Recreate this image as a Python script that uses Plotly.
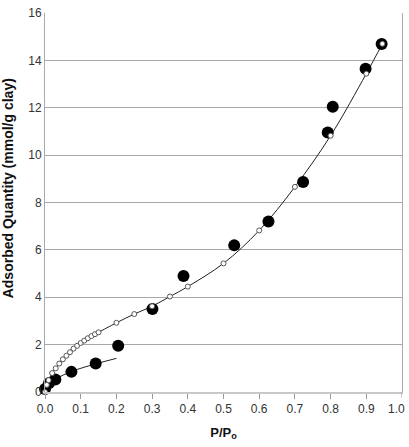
import plotly.graph_objects as go

# Open-circle series (with smooth line)
open_x = [0.0, 0.005, 0.01, 0.02, 0.03, 0.04, 0.05, 0.06, 0.07, 0.08, 0.09, 0.10,
          0.11, 0.12, 0.13, 0.14, 0.15, 0.20, 0.25, 0.30, 0.35, 0.40, 0.50, 0.60,
          0.70, 0.80, 0.90, 0.945]
open_y = [0.0, 0.3, 0.5, 0.8, 1.0, 1.2, 1.38, 1.53, 1.68, 1.83, 1.95, 2.07,
          2.17, 2.27, 2.36, 2.44, 2.52, 2.92, 3.29, 3.62, 4.03, 4.45, 5.43, 6.82,
          8.66, 10.82, 13.44, 14.7]

# Filled-circle series
filled_x = [0.0, 0.011, 0.029, 0.074, 0.142, 0.205, 0.301, 0.388, 0.53, 0.626,
            0.723, 0.792, 0.806, 0.898, 0.943]
filled_y = [0.13, 0.37, 0.53, 0.85, 1.2, 1.95, 3.5, 4.9, 6.19, 7.2,
            8.87, 10.96, 12.04, 13.65, 14.69]

# Low-pressure fit line for the filled series
fit_x = [0.0, 0.01, 0.03, 0.075, 0.145, 0.2]
fit_y = [0.12, 0.33, 0.55, 0.87, 1.2, 1.42]

x_ticks = [0.0, 0.1, 0.2, 0.3, 0.4, 0.5, 0.6, 0.7, 0.8, 0.9]
x_labels = ["0.0", "0.1", "0.2", "0.3", "0.4", "0.5", "0.6", "0.7", "0.8", "0.9"]
x_last_tick = 1.0
x_last_label = "1.0"
y_ticks = [0, 2, 4, 6, 8, 10, 12, 14, 16]
y_title = "<b>Adsorbed Quantity (mmol/g clay)</b>"
x_title = "<b>P/P<sub>o</sub></b>"

fig = go.Figure()
fig.add_trace(go.Scatter(x=fit_x, y=fit_y, mode="lines", line=dict(color="#222", width=1, shape="spline"),
                         hoverinfo="skip", showlegend=False, cliponaxis=False))
fig.add_trace(go.Scatter(x=open_x, y=open_y, mode="lines", line=dict(color="#222", width=1, shape="spline"),
                         showlegend=False, cliponaxis=False))
fig.add_trace(go.Scatter(x=filled_x, y=filled_y, mode="markers",
                         marker=dict(size=12, color="black", line=dict(width=0)),
                         showlegend=False, cliponaxis=False))
fig.add_trace(go.Scatter(x=open_x, y=open_y, mode="markers",
                         marker=dict(size=5, color="white", line=dict(color="#555", width=1)),
                         showlegend=False, cliponaxis=False))

# last x tick mark and label (label kept inside the page)
fig.add_shape(type="line", xref="x", yref="paper", x0=x_last_tick, x1=x_last_tick,
              y0=0, y1=-6 / 382, line=dict(width=1, color="#999"))
fig.add_annotation(x=x_last_tick, xref="x", y=0, yref="paper", yanchor="top", yshift=-8,
                   xanchor="right", xshift=5,
                   text=x_last_label, showarrow=False, font=dict(size=12, color="#333"))

# y-axis title as rotated annotation
fig.add_annotation(x=0, xref="paper", xshift=-37, xanchor="center",
                   y=8.6, yref="y", yanchor="middle", textangle=-90,
                   text=y_title, showarrow=False, font=dict(size=14, color="#111"))

fig.update_layout(
    width=409, height=447,
    margin=dict(l=45, r=6, t=10, b=55),
    paper_bgcolor="white", plot_bgcolor="white",
    font=dict(family="Liberation Sans, Arial, sans-serif", color="#333", size=11),
    xaxis=dict(range=[0, 1], tickvals=x_ticks, ticktext=x_labels, showgrid=False,
               showline=True, linecolor="#c8c8c8", linewidth=2, ticks="outside",
               ticklen=5, tickcolor="#999", tickwidth=1, zeroline=False,
               tickfont=dict(size=12, color="#333"),
               title=dict(text=x_title, font=dict(size=13, color="#111"), standoff=12)),
    yaxis=dict(range=[0, 16], tickvals=y_ticks, showgrid=True, gridcolor="#a8a8a8", gridwidth=1,
               showline=True, linecolor="#aaa", linewidth=1, mirror=True, ticks="", zeroline=False,
               tickfont=dict(size=12, color="#333")),
)
fig.write_html("out.html")
